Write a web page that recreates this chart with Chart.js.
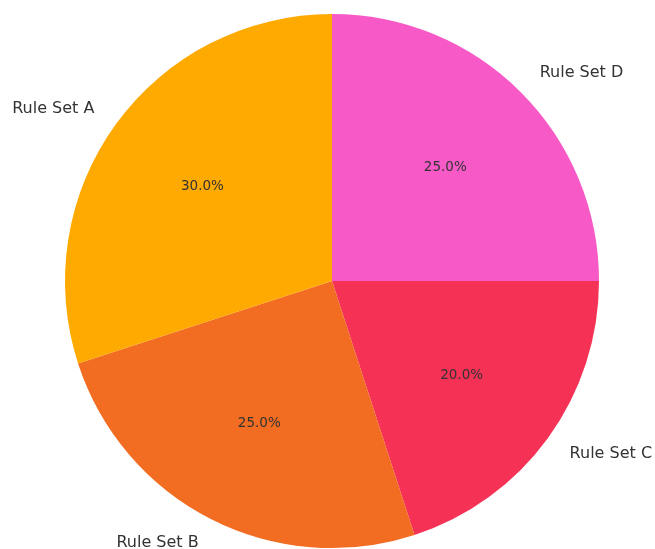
<!DOCTYPE html>
<html>
<head>
<meta charset="utf-8">
<script src="https://cdn.jsdelivr.net/npm/chart.js@4"></script>
<style>
  html, body { margin: 0; padding: 0; background: #fff; }
  #wrap { width: 655px; height: 549px; }
</style>
</head>
<body>
<div id="wrap"><canvas id="pie"></canvas></div>
<script>
// slices listed clockwise from the top
const labels = ['Rule Set D', 'Rule Set C', 'Rule Set B', 'Rule Set A'];
const shares = [25, 20, 25, 30];
const colors = ['#F75AC6', '#F53255', '#F26C21', '#FFAA00'];

// names outside the pie, percentages inside
const sliceText = {
    id: 'sliceText',
    afterDatasetsDraw(chart) {
        const ctx = chart.ctx;
        const arcs = chart.getDatasetMeta(0).data;
        const total = shares.reduce((a, b) => a + b, 0);
        ctx.save();
        ctx.fillStyle = '#333333';
        ctx.textBaseline = 'middle';
        arcs.forEach((arc, i) => {
            const mid = (arc.startAngle + arc.endAngle) / 2;
            const r = arc.outerRadius;
            const cos = Math.cos(mid), sin = Math.sin(mid);

            ctx.font = '16px "DejaVu Sans"';
            ctx.textAlign = cos >= 0 ? 'left' : 'right';
            ctx.fillText(labels[i], arc.x + cos * r * 1.1, arc.y + sin * r * 1.1);

            ctx.font = '13.5px "DejaVu Sans"';
            ctx.textAlign = 'center';
            const pct = (shares[i] / total * 100).toFixed(1) + '%';
            ctx.fillText(pct, arc.x + cos * r * 0.6, arc.y + sin * r * 0.6);
        });
        ctx.restore();
    }
};

new Chart(document.getElementById('pie'), {
    type: 'pie',
    data: {
        labels: labels,
        datasets: [{
            data: shares,
            backgroundColor: colors,
            borderWidth: 0,
        }],
    },
    options: {
        responsive: true,
        maintainAspectRatio: false,
        animation: false,
        layout: { padding: { top: 14, bottom: 1, left: 65, right: 56 } },
        plugins: {
            legend: { display: false },
            tooltip: { enabled: false },
        },
    },
    plugins: [sliceText],
});
</script>
</body>
</html>
